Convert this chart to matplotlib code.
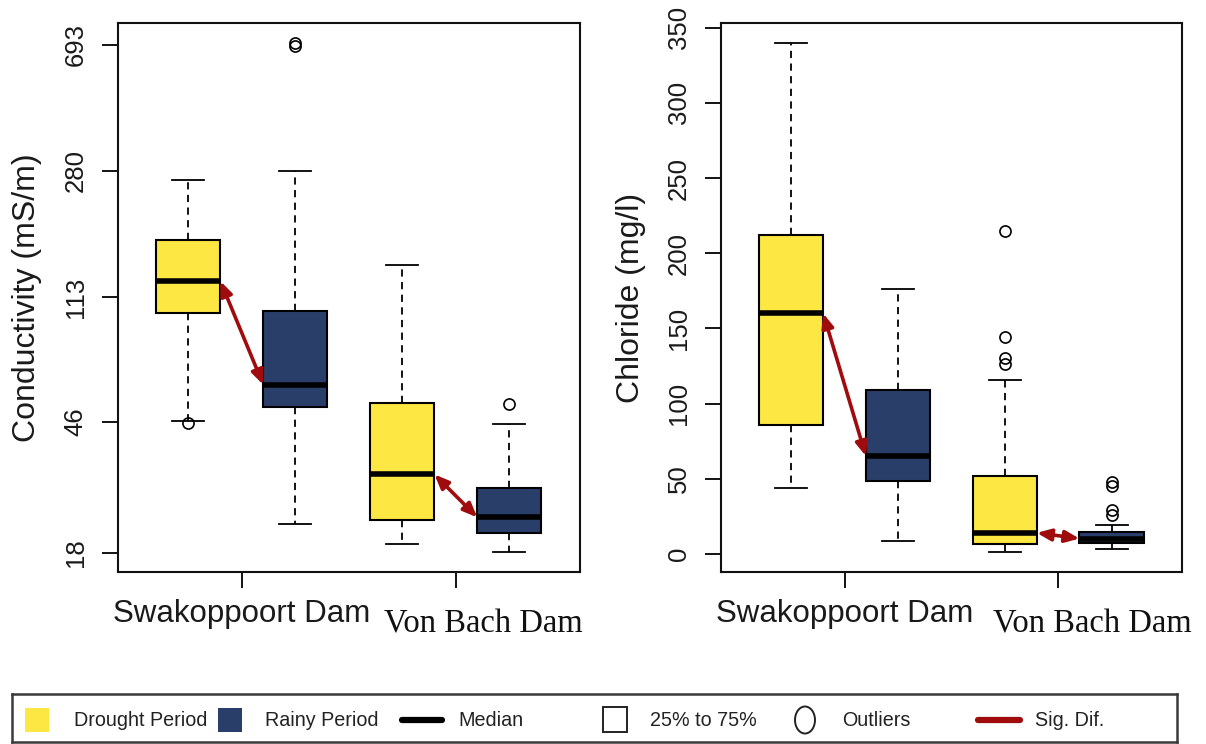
import math
import matplotlib
matplotlib.use("Agg")
import matplotlib.pyplot as plt
from matplotlib.patches import Rectangle, Ellipse
from matplotlib.lines import Line2D
from matplotlib.ticker import NullLocator

# ---- data -----------------------------------------------------------------
dams = ["Swakoppoort Dam", "Von Bach Dam"]
periods = ["Drought Period", "Rainy Period"]

# box order: Swakoppoort drought, Swakoppoort rainy, Von Bach drought, Von Bach rainy
cond_whislo = [46.4, 22.2, 19.2, 18.1]
cond_q1 = [100.9, 51.4, 22.7, 20.8]
cond_med = [126.7, 60.2, 31.6, 23.2]
cond_q3 = [171.0, 102.6, 52.8, 28.7]
cond_whishi = [261.5, 280.0, 142.6, 45.5]
cond_fliers = [[45.6], [688.0, 702.0], [], [52.6]]
cond_ticks = [18, 46, 113, 280, 693]

chl_whislo = [43.8, 8.9, 1.3, 3.5]
chl_q1 = [85.9, 48.2, 6.4, 7.0]
chl_med = [160.0, 65.0, 14.0, 10.2]
chl_q3 = [212.0, 109.0, 51.7, 14.5]
chl_whishi = [339.8, 175.9, 116.0, 19.0]
chl_fliers = [[], [], [214.9, 144.0, 130.0, 126.5], [48.0, 45.0, 29.3, 26.0]]
chl_ticks = [0, 50, 100, 150, 200, 250, 300, 350]

# ---- style ----------------------------------------------------------------
YELLOW = "#FDE843"
BLUE = "#293E69"
RED = "#A00C0E"
SANS = "Liberation Sans"
SERIF = "Liberation Serif"

plt.rcParams["font.family"] = SANS

fig = plt.figure(figsize=(12.06, 7.44), dpi=100)
W, H = 1206.0, 744.0

positions = [1, 2, 3, 4]
box_colors = [YELLOW, BLUE, YELLOW, BLUE]
group_ticks = [1.5, 3.5]


def panel(rect, whislo, q1, med, q3, whishi, fliers, ylabel, log, ticks, serif_shift):
    ax = fig.add_axes(rect)
    stats = []
    for i in range(len(positions)):
        stats.append(dict(whislo=whislo[i], q1=q1[i], med=med[i], q3=q3[i],
                          whishi=whishi[i], fliers=fliers[i]))
    bp = ax.bxp(stats, positions=positions, widths=0.6, capwidths=0.3,
                patch_artist=True,
                boxprops=dict(edgecolor="black", linewidth=1.5),
                medianprops=dict(color="black", linewidth=4.0, solid_capstyle="butt"),
                whiskerprops=dict(color="black", linewidth=1.3, linestyle=(0, (4, 3))),
                capprops=dict(color="black", linewidth=1.3),
                flierprops=dict(marker="o", markerfacecolor="none",
                                markeredgecolor="black", markersize=8,
                                markeredgewidth=1.2))
    for patch, c in zip(bp["boxes"], box_colors):
        patch.set_facecolor(c)

    # significant drought/rainy differences between medians
    for g in range(len(dams)):
        i, j = 2 * g, 2 * g + 1
        ax.annotate("", xy=(positions[j] - 0.3, med[j]),
                    xytext=(positions[i] + 0.3, med[i]),
                    arrowprops=dict(arrowstyle="<|-|>,head_length=0.6,head_width=0.25",
                                    color=RED, lw=2.6, shrinkA=0, shrinkB=0,
                                    mutation_scale=14),
                    zorder=5)

    # axis ranges padded by 4% of the data span (in log space for the log axis)
    ax.set_xlim(0.34, 4.66)
    all_fliers = [v for f in fliers for v in f]
    lo = min(min(whislo), min(all_fliers))
    hi = max(max(whishi), max(all_fliers))
    if log:
        ax.set_yscale("log")
        a, b = math.log(lo), math.log(hi)
        pad = 0.04 * (b - a)
        ax.set_ylim(math.exp(a - pad), math.exp(b + pad))
    else:
        pad = 0.04 * (hi - lo)
        ax.set_ylim(lo - pad, hi + pad)
    ax.set_yticks(ticks)
    ax.set_yticklabels([str(t) for t in ticks], rotation=90, va="center",
                       fontsize=18.5, color="#1a1a1a")
    ax.yaxis.set_minor_locator(NullLocator())
    ax.tick_params(axis="y", length=11.5, width=1.3, pad=10)

    ax.set_xticks(group_ticks)
    ax.set_xticklabels(["", ""])
    ax.xaxis.set_minor_locator(NullLocator())
    ax.tick_params(axis="x", length=11.5, width=1.3)

    for s in ax.spines.values():
        s.set_linewidth(1.5)
        s.set_color("#111111")

    ax.set_ylabel(ylabel, fontsize=23, color="#1a1a1a")
    ax.yaxis.set_label_coords(-0.163, 0.5)

    trans = ax.get_xaxis_transform()
    ax.annotate(dams[0], xy=(group_ticks[0], 0), xycoords=trans,
                xytext=(0, -50), textcoords="offset pixels",
                ha="center", va="baseline", fontsize=22.5, family=SANS,
                color="#1a1a1a", annotation_clip=False)
    ax.annotate(dams[1], xy=(group_ticks[1], 0), xycoords=trans,
                xytext=(serif_shift, -60), textcoords="offset pixels",
                ha="center", va="baseline", fontsize=23.5, family=SERIF,
                color="#111111", annotation_clip=False)
    return ax


bottom = 1 - 572.3 / H
height = (572.3 - 22.7) / H
panel([117.7 / W, bottom, (580 - 117.7) / W, height],
      cond_whislo, cond_q1, cond_med, cond_q3, cond_whishi, cond_fliers,
      "Conductivity (mS/m)", True, cond_ticks, 28)
panel([720.7 / W, bottom, (1182 - 720.7) / W, height],
      chl_whislo, chl_q1, chl_med, chl_q3, chl_whishi, chl_fliers,
      "Chloride (mg/l)", False, chl_ticks, 34)

# ---- legend strip ---------------------------------------------------------
lax = fig.add_axes([12 / W, (H - 742) / H, (1177 - 12) / W, (742 - 694) / H])
lax.set_xlim(12, 1177)
lax.set_ylim(742, 694)
lax.set_xticks([])
lax.set_yticks([])
for s in lax.spines.values():
    s.set_linewidth(1.8)
    s.set_color("#3a3a3a")

ymid = 720
lax.add_patch(Rectangle((25, 708), 24, 24, facecolor=YELLOW, edgecolor="none"))
lax.add_patch(Rectangle((218, 708), 24, 24, facecolor=BLUE, edgecolor="none"))
lax.add_line(Line2D([402, 442], [ymid, ymid], color="black", lw=4.5,
                    solid_capstyle="round"))
lax.add_patch(Rectangle((603, 707), 24, 25, facecolor="none", edgecolor="#222222", lw=1.4))
lax.add_patch(Ellipse((805, ymid), 20, 27, facecolor="none", edgecolor="#222222", lw=1.4))
lax.add_line(Line2D([978, 1020], [ymid, ymid], color=RED, lw=4.5,
                    solid_capstyle="round"))

legend_texts = [(74, periods[0]), (265, periods[1]), (458, "Median"),
                (650, "25% to 75%"), (842, "Outliers"), (1035, "Sig. Dif.")]
for x, t in legend_texts:
    lax.text(x, ymid + 1, t, ha="left", va="center", fontsize=14.2,
             color="#222222", family=SANS)

fig.savefig("out.png", dpi=100)
